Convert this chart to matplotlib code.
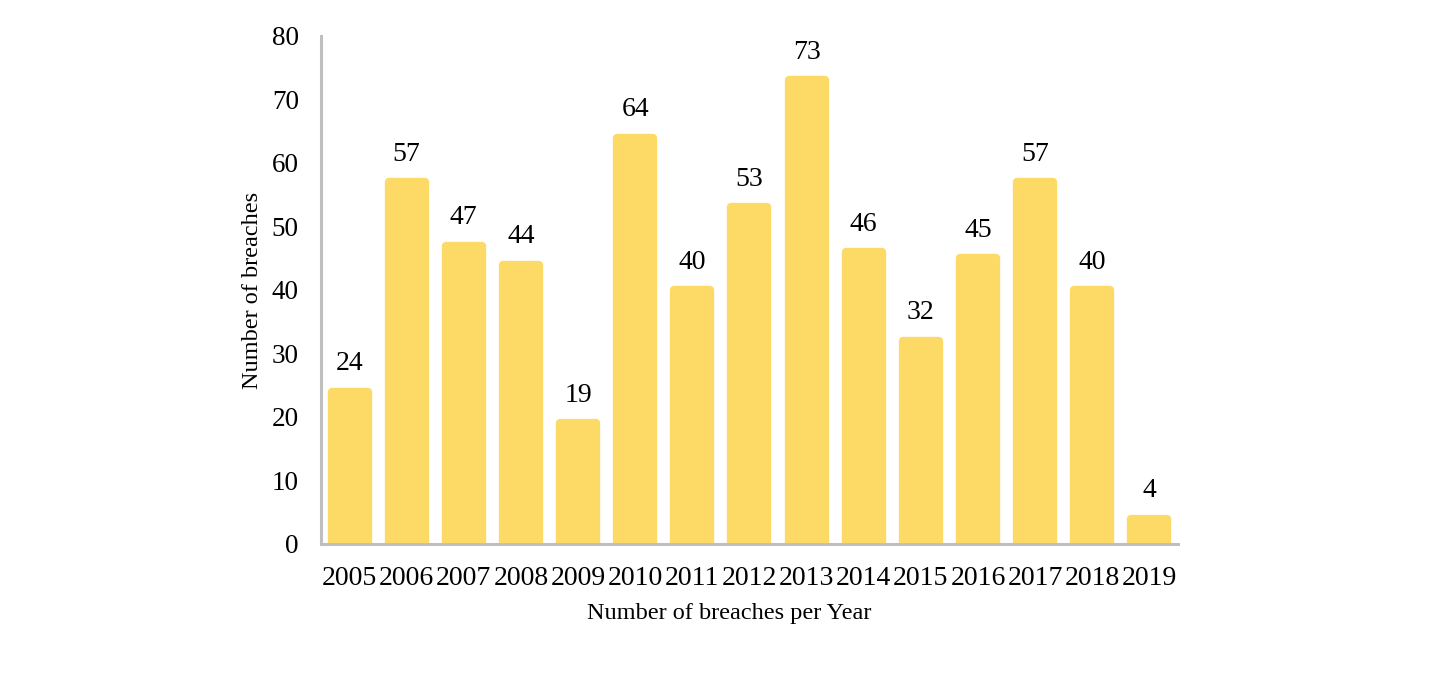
"""
plot.py

Bar chart of the number of breaches per year (2005-2019).
"""

import matplotlib.pyplot as plt

# Chart data
years = ["2005", "2006", "2007", "2008", "2009", "2010", "2011", "2012",
         "2013", "2014", "2015", "2016", "2017", "2018", "2019"]
breaches = [24, 57, 47, 44, 19, 64, 40, 53, 73, 46, 32, 45, 57, 40, 4]
y_ticks = [0, 10, 20, 30, 40, 50, 60, 70, 80]

bar_color = "#FDD966"
spine_color = "#BFBFBF"

plt.rcParams["font.family"] = ["Liberation Serif", "DejaVu Serif"]

fig = plt.figure(figsize=(14.4, 7), dpi=100)
ax = fig.add_axes([0.2229, 0.2229, 0.5951, 0.7257])

positions = list(range(len(years)))
# thick round-joined edge gives the soft rounded corners of the original
ax.bar(positions, breaches, width=0.63, color=bar_color,
       edgecolor=bar_color, linewidth=6, joinstyle="round", zorder=1)

# value labels above each bar
for x, v in zip(positions, breaches):
    ax.annotate(str(v), (x, v), xytext=(0, 11), textcoords="offset points",
                ha="center", va="bottom", fontsize=20)

ax.set_xlim(-0.5, len(years) - 0.5)
ax.set_ylim(0, 80)
ax.set_xticks(positions)
ax.set_xticklabels(years)
ax.set_yticks(y_ticks)
ax.tick_params(axis="both", length=0)
ax.tick_params(axis="y", pad=16, labelsize=19.5)
ax.tick_params(axis="x", pad=16, labelsize=20)

# only left and bottom spines, light grey
for side in ["top", "right"]:
    ax.spines[side].set_visible(False)
for side in ["left", "bottom"]:
    ax.spines[side].set_color(spine_color)
    ax.spines[side].set_linewidth(2.2)
    ax.spines[side].set_zorder(3)

ax.set_xlabel("Number of breaches per Year", fontsize=17.5)
ax.xaxis.set_label_coords(0.476, -0.116)
ax.set_ylabel("Number of breaches", fontsize=17.5)
ax.yaxis.set_label_coords(-0.068, 0.5)

fig.savefig("out.png", dpi=100)
